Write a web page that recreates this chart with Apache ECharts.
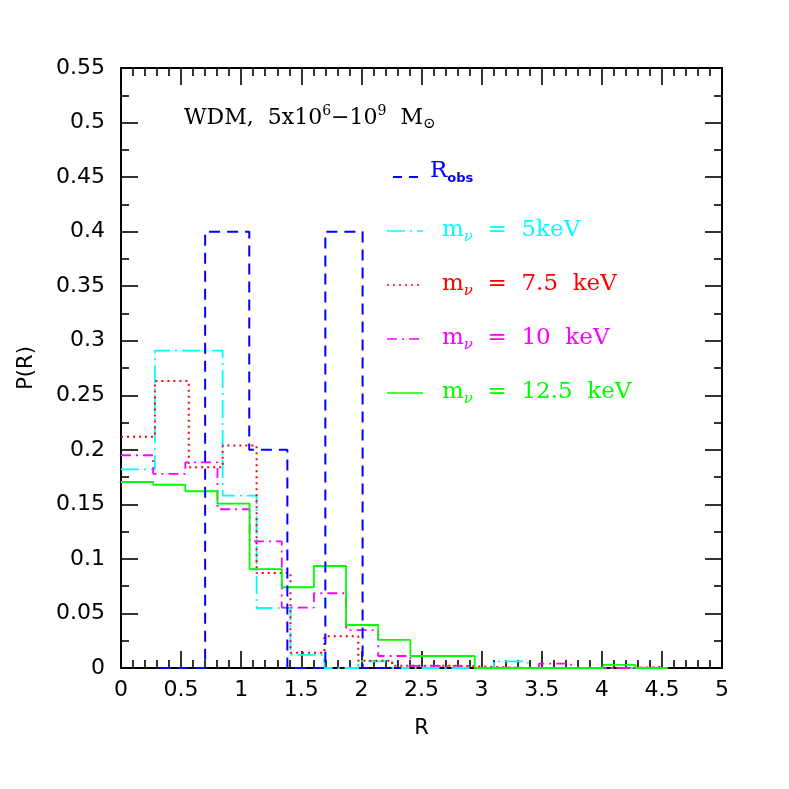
<!DOCTYPE html>
<html>
<head>
<meta charset="utf-8">
<script src="https://cdn.jsdelivr.net/npm/echarts@6/dist/echarts.min.js"></script>
<style>
  html, body { margin: 0; padding: 0; background: #fff; }
  #chart { width: 789px; height: 789px; }
</style>
</head>
<body>
<div id="chart"></div>
<script>
// bin edges (R) for each histogram
const edgesCoarse = [0, 0.282, 0.564, 0.846, 1.128, 1.41, 1.692, 1.974, 2.256, 2.538, 2.82, 3.102, 3.384, 3.666, 3.948, 4.23, 4.512];
const edgesFine = [0, 0.2675, 0.535, 0.8025, 1.07, 1.3375, 1.605, 1.8725, 2.14, 2.4075, 2.675, 2.9425, 3.21, 3.4775, 3.745, 4.0125, 4.28, 4.5475];
const edgesObs = [0.32, 0.70, 1.067, 1.384, 1.70, 2.01, 2.33];

// P(R) per bin
const pObs = [0, 0.4, 0.2, 0, 0.4, 0];
const p5keV = [0.182, 0.291, 0.291, 0.158, 0.055, 0.012, 0, 0.006, 0, 0, 0, 0.006, 0, 0, 0, 0];
const p75keV = [0.212, 0.263, 0.184, 0.204, 0.087, 0.014, 0.029, 0.0067, 0.002, 0.002, 0.001, 0, 0, 0, 0, 0.001];
const p10keV = [0.195, 0.178, 0.1885, 0.1455, 0.116, 0.0553, 0.0685, 0.0348, 0.011, 0.002, 0.002, 0, 0, 0.004, 0, 0, 0];
const p125keV = [0.1705, 0.168, 0.162, 0.1506, 0.0907, 0.074, 0.0935, 0.0394, 0.0257, 0.011, 0.011, 0, 0, 0, 0, 0.0028, 0];

const xTicks = [0, 0.5, 1, 1.5, 2, 2.5, 3, 3.5, 4, 4.5, 5];
const yTicks = [0, 0.05, 0.1, 0.15, 0.2, 0.25, 0.3, 0.35, 0.4, 0.45, 0.5, 0.55];

function steps(edges, vals) {
	const pts = [];
	vals.forEach((v, i) => {
		pts.push([edges[i], v]);
		pts.push([edges[i + 1], v]);
	});
	return pts;
}

function histo(name, edges, vals, color, dash, width) {
	return {
		name: name,
		type: 'line',
		data: steps(edges, vals),
		showSymbol: false,
		silent: true,
		animation: false,
		lineStyle: { color: color, width: width, type: dash },
	};
}

const chart = echarts.init(document.getElementById('chart'));

const tickFont = 'DejaVu Sans';
const serif = 'DejaVu Serif';

function baseX(pos, show) {
	return {
		type: 'value',
		position: pos,
		min: 0,
		max: 5,
		interval: 0.5,
		axisLine: { show: true, onZero: false, lineStyle: { color: '#000', width: 2 } },
		axisTick: { show: true, inside: true, length: 17, lineStyle: { color: '#000', width: 1.6 } },
		minorTick: { show: true, splitNumber: 5, length: 8, lineStyle: { color: '#000', width: 1.6 } },
		splitLine: { show: false },
		axisLabel: {
			show: show,
			fontFamily: tickFont,
			fontSize: 22,
			color: '#000',
			margin: 11,
			formatter: (v) => (xTicks.includes(v) ? String(v) : ''),
		},
	};
}

function baseY(pos, show) {
	return {
		type: 'value',
		position: pos,
		min: 0,
		max: 0.55,
		interval: 0.05,
		axisLine: { show: true, onZero: false, lineStyle: { color: '#000', width: 2 } },
		axisTick: { show: true, inside: true, length: 17, lineStyle: { color: '#000', width: 1.6 } },
		minorTick: { show: true, splitNumber: 2, length: 8, lineStyle: { color: '#000', width: 1.6 } },
		splitLine: { show: false },
		axisLabel: {
			show: show,
			fontFamily: tickFont,
			fontSize: 22,
			color: '#000',
			margin: 16,
			formatter: (v) => {
				const t = yTicks.find((y) => Math.abs(y - v) < 1e-6);
				return t === undefined ? '' : String(t);
			},
		},
	};
}

const xBottom = Object.assign(baseX('bottom', true), {
	name: 'R',
	nameLocation: 'middle',
	nameGap: 50,
	nameTextStyle: { fontFamily: tickFont, fontSize: 21, color: '#000' },
});
const yLeft = Object.assign(baseY('left', true), {
	name: 'P(R)',
	nameLocation: 'middle',
	nameGap: 84,
	nameRotate: 90,
	nameTextStyle: { fontFamily: tickFont, fontSize: 21, color: '#000' },
});

// legend entries: sample line + label
const legendItems = [
	{ y: 231, color: '#00ffff', dash: [18, 5, 2, 5], label: '5keV' },
	{ y: 285, color: '#ff0000', dash: [2, 4], label: '7.5  keV' },
	{ y: 339, color: '#ff00ff', dash: [10, 5, 2, 5], label: '10  keV' },
	{ y: 393, color: '#00ff00', dash: 'solid', label: '12.5  keV' },
];

const graphics = [
	{
		type: 'text',
		left: 184,
		top: 104,
		style: {
			text: '{n|WDM,  5x10}{sup|6}{n|\u221210}{sup|9}{n|  M}{sub|\u2299}',
			rich: {
				n: { fontFamily: serif, fontSize: 22, fill: '#000', lineHeight: 28, verticalAlign: 'middle' },
				sup: { fontFamily: serif, fontSize: 14, fill: '#000', lineHeight: 12, verticalAlign: 'top' },
				sub: { fontFamily: serif, fontSize: 15, fill: '#000', lineHeight: 12, verticalAlign: 'bottom' },
			},
		},
	},
	{
		type: 'line',
		shape: { x1: 393, y1: 177, x2: 423, y2: 177 },
		style: { stroke: '#0000ff', lineWidth: 2, lineDash: [9, 7] },
	},
	{
		type: 'text',
		left: 430,
		top: 160,
		style: {
			text: '{n|R}{sub|obs}',
			rich: {
				n: { fontFamily: serif, fontSize: 23, fill: '#0000ff', lineHeight: 28, verticalAlign: 'middle' },
				sub: { fontFamily: tickFont, fontSize: 13, fontWeight: 'bold', fill: '#0000ff', lineHeight: 12, verticalAlign: 'bottom' },
			},
		},
	},
];

legendItems.forEach((it) => {
	graphics.push({
		type: 'line',
		shape: { x1: 387, y1: it.y, x2: 423, y2: it.y },
		style: { stroke: it.color, lineWidth: 1.6, lineDash: it.dash === 'solid' ? null : it.dash },
	});
	graphics.push({
		type: 'text',
		left: 442,
		top: it.y - 12,
		style: {
			text: '{n|m}{sub|\u03bd}{n|  =  ' + it.label + '}',
			rich: {
				n: { fontFamily: serif, fontSize: 23, fill: it.color, lineHeight: 28, verticalAlign: 'middle' },
				sub: { fontFamily: serif, fontSize: 15, fontStyle: 'italic', fill: it.color, lineHeight: 12, verticalAlign: 'bottom' },
			},
		},
	});
});

chart.setOption({
	animation: false,
	backgroundColor: '#fff',
	grid: { left: 121, top: 68, right: 67, bottom: 121, containLabel: false },
	xAxis: [xBottom, baseX('top', false)],
	yAxis: [yLeft, baseY('right', false)],
	series: [
		histo('m5', edgesCoarse, p5keV, '#00ffff', [18, 5, 2, 5], 1.8),
		histo('m7.5', edgesCoarse, p75keV, '#ff0000', [2, 4], 2),
		histo('m10', edgesFine, p10keV, '#ff00ff', [10, 5, 2, 5], 1.8),
		histo('m12.5', edgesFine, p125keV, '#00ff00', 'solid', 1.8),
		histo('obs', edgesObs, pObs, '#0000ff', [11, 7], 2),
	],
	graphic: graphics,
});
</script>
</body>
</html>
